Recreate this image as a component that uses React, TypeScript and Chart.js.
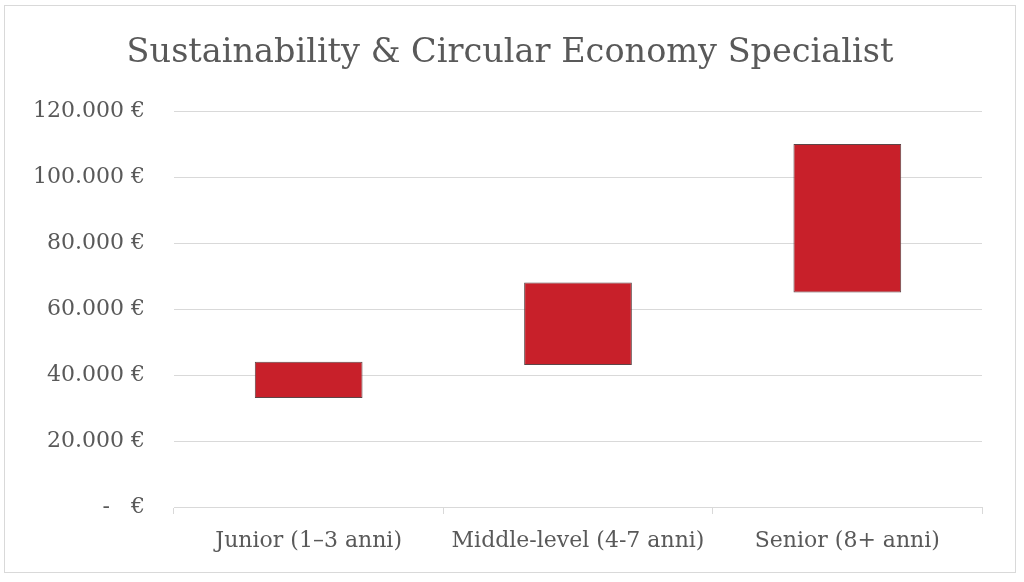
import { useEffect, useRef } from 'react';
import { Chart, registerables, type ChartConfiguration, type Plugin } from 'chart.js';

Chart.register(...registerables);

const TITLE = 'Sustainability & Circular Economy Specialist';
const levels = ['Junior (1–3 anni)', 'Middle-level (4-7 anni)', 'Senior (8+ anni)'];
const salaryMin = [33000, 43000, 65000];
const salaryMax = [44000, 68000, 110000];

const FONT = "'DejaVu Serif', serif";
const GREY = '#595959';
const LINE = '#d9d9d9';

// 120000 -> "120.000 €", 0 -> "-   €" (accounting style)
function euro(v: number) {
  if (v === 0) return '-   €';
  const s = String(Math.round(v)).replace(/\B(?=(\d{3})+(?!\d))/g, '.');
  return `${s} €`;
}

// title centred on the whole frame, not on the padded layout box
const frameTitle: Plugin<'bar'> = {
  id: 'frameTitle',
  afterDraw(chart) {
    const { ctx, width } = chart;
    ctx.save();
    ctx.font = `33.5px ${FONT}`;
    ctx.fillStyle = GREY;
    ctx.textAlign = 'center';
    ctx.textBaseline = 'middle';
    ctx.fillText(TITLE, width / 2 - 2, 53);
    ctx.restore();
  },
};

export default function App() {
  const canvasRef = useRef<HTMLCanvasElement>(null);

  useEffect(() => {
    document.body.style.margin = '0';
    if (!canvasRef.current) return;

    const config: ChartConfiguration<'bar'> = {
      type: 'bar',
      data: {
        labels: levels,
        datasets: [
          {
            label: 'Range',
            data: levels.map((_, i) => [salaryMin[i], salaryMax[i]]) as any,
            backgroundColor: '#c8202a',
            borderColor: '#5e4547',
            borderWidth: 1,
            borderSkipped: false,
            barPercentage: 0.4,
            categoryPercentage: 1,
          },
        ],
      },
      options: {
        responsive: false,
        animation: false,
        layout: { padding: { left: 0, right: 42, top: 111, bottom: 0 } },
        scales: {
          x: {
            grid: {
              drawOnChartArea: false,
              drawTicks: true,
              tickLength: 7,
              color: LINE,
            },
            border: { display: true, color: LINE },
            ticks: {
              color: GREY,
              font: { family: FONT, size: 22 },
              padding: 14,
              maxRotation: 0,
            },
            afterFit: (s: any) => {
              s.height = 75;
            },
          },
          y: {
            min: 0,
            max: 120000,
            grid: { color: LINE, drawTicks: false },
            border: { display: false },
            ticks: {
              stepSize: 20000,
              color: GREY,
              font: { family: FONT, size: 22 },
              padding: 29,
              callback: (v) => euro(Number(v)),
            },
            afterFit: (s: any) => {
              s.width = 174;
            },
          },
        },
        plugins: {
          legend: { display: false },
          tooltip: { enabled: false },
          title: { display: false },
        },
      },
      plugins: [frameTitle],
    };

    const chart = new Chart(canvasRef.current, config);
    return () => chart.destroy();
  }, []);

  return (
    <div style={{ position: 'relative', width: 1024, height: 582, background: '#fff' }}>
      <canvas ref={canvasRef} width={1024} height={582} style={{ display: 'block' }} />
      <div
        style={{
          position: 'absolute',
          left: 4,
          top: 5,
          width: 1010,
          height: 566,
          border: `1px solid ${LINE}`,
          pointerEvents: 'none',
        }}
      />
    </div>
  );
}
